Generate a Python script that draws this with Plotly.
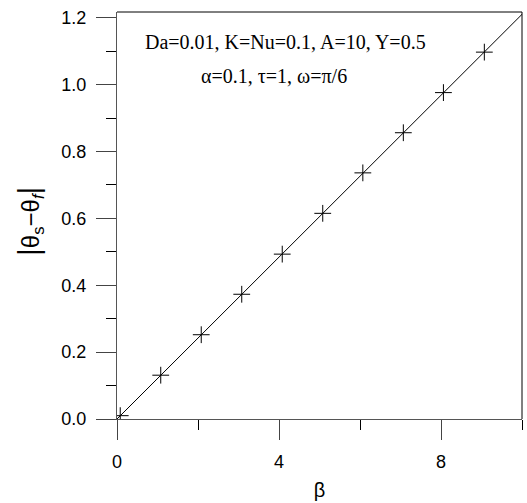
import plotly.graph_objects as go

# data
beta_pts = [0.08, 1.08, 2.08, 3.08, 4.08, 5.08, 6.07, 7.07, 8.06, 9.07]
diff_pts = [0.010, 0.131, 0.252, 0.373, 0.493, 0.615, 0.736, 0.856, 0.976, 1.097]
beta_line = [0, 10]
diff_line = [0, 1.21]
x_ticks = [0, 4, 8]
y_ticks = [0.0, 0.2, 0.4, 0.6, 0.8, 1.0, 1.2]
y_ticktext = ["0.0", "0.2", "0.4", "0.6", "0.8", "1.0", "1.2"]

fig = go.Figure()
fig.add_trace(go.Scatter(x=beta_line, y=diff_line, mode="lines",
                         line=dict(color="black", width=1), showlegend=False))
fig.add_trace(go.Scatter(x=beta_pts, y=diff_pts, mode="markers",
                         marker=dict(symbol="cross-thin", size=12,
                                     line=dict(color="black", width=1)),
                         showlegend=False))

axis_font = dict(family="Liberation Sans, Arial, sans-serif", size=18, color="black")

fig.update_layout(
    width=527, height=503,
    margin=dict(l=117, r=5, t=12, b=84),
    plot_bgcolor="white", paper_bgcolor="white",
    xaxis=dict(range=[0, 10], tickvals=x_ticks, ticks="outside", ticklen=20,
               tickcolor="#444", tickwidth=1, showgrid=False, zeroline=False,
               showline=True, linecolor="#555", linewidth=1,
               tickfont=axis_font, ticklabelstandoff=6,
               minor=dict(dtick=2, ticks="outside", ticklen=10, tickcolor="black", showgrid=False),
               title=dict(text="β", font=dict(family="Liberation Sans, Arial, sans-serif", size=20, color="black"),
                          standoff=12)),
    yaxis=dict(range=[0, 1.217], tickvals=y_ticks, ticktext=y_ticktext, ticks="outside", ticklen=20,
               tickcolor="#444", tickwidth=1, showgrid=False, zeroline=False,
               showline=True, linecolor="#555", linewidth=1,
               tickfont=axis_font, ticklabelstandoff=6,
               minor=dict(dtick=0.1, ticks="outside", ticklen=10, tickcolor="black", showgrid=False)),
    shapes=[
        dict(type="line", xref="paper", yref="paper", x0=0, x1=1, y0=1, y1=1,
             line=dict(color="black", width=1)),
        dict(type="line", xref="paper", yref="paper", x0=1, x1=1, y0=0, y1=1,
             line=dict(color="black", width=1)),
    ],
    annotations=[
        dict(text="Da=0.01, K=Nu=0.1, A=10, Y=0.5", x=(285 - 117) / 405, y=(419 - 29) / 407,
             xref="paper", yref="paper", showarrow=False,
             font=dict(family="Liberation Serif, Times New Roman, serif", size=20, color="black")),
        dict(text="α=0.1, τ=1, ω=π/6", x=(274 - 117) / 405, y=(419 - 63) / 407,
             xref="paper", yref="paper", showarrow=False,
             font=dict(family="Liberation Serif, Times New Roman, serif", size=20, color="black")),
        dict(text="<span style='font-size:30px'>|</span>θ<sub>s</sub>−θ<sub><i>f</i></sub><span style='font-size:30px'>|</span>",
             x=(10 - 117) / 405, y=(419 - 222) / 407, xref="paper", yref="paper",
             showarrow=False, textangle=-90,
             font=dict(family="Liberation Sans, Arial, sans-serif", size=24, color="black")),
    ],
)

fig.write_html("out.html")
